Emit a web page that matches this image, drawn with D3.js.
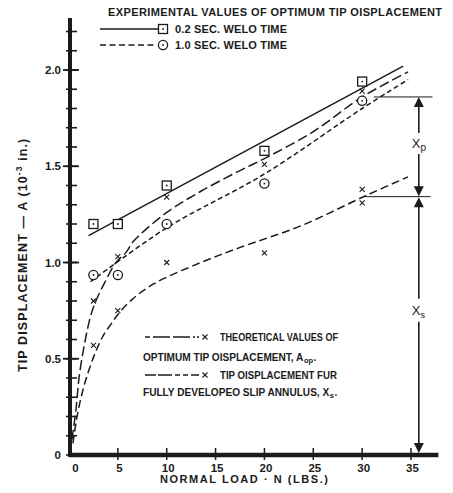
<!DOCTYPE html>
<html><head><meta charset="utf-8">
<script src="https://cdn.jsdelivr.net/npm/d3@7/dist/d3.min.js"></script>
<style>
html,body{margin:0;padding:0;background:#fff;}
svg{display:block;}
text{font-family:"Liberation Sans",Arial,sans-serif;font-weight:bold;fill:#1b1b1b;}
</style></head><body>
<svg id="c" width="453" height="493"></svg>
<script>
// ---- data ----
const expLoad = [2.5, 5, 10, 20, 30];
const weld02 = [1.20, 1.20, 1.40, 1.58, 1.94];
const weld10 = [0.935, 0.935, 1.20, 1.41, 1.84];
const aopMarkN = [2.5, 5, 10, 20, 30];
const aopMarkA = [0.80, 1.03, 1.34, 1.51, 1.89];
const xsMarkN = [2.5, 5, 10, 20, 30, 30];
const xsMarkA = [0.57, 0.75, 1.00, 1.05, 1.38, 1.31];
const fit02N = [2.0, 34.2];
const fit02A = [1.14, 2.02];
const fit10N = [2.2, 10, 20, 30, 34.7];
const fit10A = [0.90, 1.18, 1.46, 1.80, 1.95];
const aopN = [0.3, 0.7, 1.05, 1.6, 2.2, 2.75, 3.6, 4.8, 5.8, 6.6, 10, 13.5, 17.6, 20, 25, 30, 34.7];
const aopA = [0.08, 0.23, 0.41, 0.58, 0.72, 0.80, 0.89, 1.00, 1.05, 1.11, 1.26, 1.37, 1.48, 1.54, 1.68, 1.86, 1.99];
const xsN = [0.4, 0.9, 1.6, 2.6, 3.5, 4.3, 5, 6.5, 8.7, 13.5, 17.6, 23.7, 30.5, 34.7];
const xsA = [0.06, 0.22, 0.37, 0.52, 0.62, 0.68, 0.73, 0.81, 0.89, 1.00, 1.08, 1.19, 1.35, 1.445];
const xTickVals = [0, 5, 10, 15, 20, 25, 30, 35];
const yTickVals = [0, 0.5, 1.0, 1.5, 2.0];
const yTickLabels = ["0", "0.5", "1.0", "1.5", "2.0"];
const yMinorVals = d3.range(0, 2.25, 0.1);
const xpTopA = 1.86, xsTopA = 1.342, annotN = 35.8;

// ---- scales ----
const x = d3.scaleLinear().domain([0, 35]).range([69, 411]);
const y = d3.scaleLinear().domain([0, 2]).range([455, 70]);
const svg = d3.select("#c");
const ink = "#1b1b1b";

// ---- axes ----
svg.append("line").attr("x1", 70).attr("x2", 70).attr("y1", y(2.27)).attr("y2", y(0) + 2)
  .attr("stroke", ink).attr("stroke-width", 4);
svg.append("line").attr("x1", 70).attr("x2", x(37.8)).attr("y1", y(0)).attr("y2", y(0))
  .attr("stroke", ink).attr("stroke-width", 4.5);

svg.append("g").selectAll("line").data(yMinorVals).join("line")
  .attr("x1", 66).attr("x2", 77).attr("y1", d => y(d)).attr("y2", d => y(d))
  .attr("stroke", ink).attr("stroke-width", 1.6);

const yAxis = d3.axisLeft(y).tickValues(yTickVals).tickFormat((d, i) => yTickLabels[i])
  .tickSize(0).tickPadding(0);
const gy = svg.append("g").attr("transform", "translate(61,0)").call(yAxis);
gy.select(".domain").remove();
gy.selectAll("text").attr("font-size", 11.5).attr("fill", ink).style("font-family", "Liberation Sans, Arial, sans-serif").style("font-weight", "bold");
svg.append("g").selectAll("line").data(yTickVals.filter(d => d > 0)).join("line")
  .attr("x1", 63).attr("x2", 79).attr("y1", d => y(d)).attr("y2", d => y(d))
  .attr("stroke", ink).attr("stroke-width", 1.8);

const xAxis = d3.axisBottom(x).tickValues(xTickVals).tickSize(0).tickPadding(0).tickFormat(d3.format("d"));
const gx = svg.append("g").attr("transform", `translate(0,${y(0) + 17})`).call(xAxis);
gx.select(".domain").remove();
gx.selectAll("text").attr("font-size", 11.5).attr("fill", ink).attr("dy", 0)
  .attr("dx", d => d === 0 ? 6 : 1)
  .style("font-family", "Liberation Sans, Arial, sans-serif").style("font-weight", "bold");
svg.append("g").selectAll("line").data(xTickVals.filter(d => d > 0)).join("line")
  .attr("x1", d => x(d)).attr("x2", d => x(d)).attr("y1", y(0) - 7).attr("y2", y(0) + 5)
  .attr("stroke", ink).attr("stroke-width", 1.5);

// ---- axis titles ----
svg.append("text").attr("x", 160).attr("y", 483).attr("font-size", 11)
  .attr("textLength", 168).attr("lengthAdjust", "spacing")
  .text("NORMAL  LOAD  ·  N  (LBS.)");
const yt = svg.append("text").attr("transform", "translate(27,372) rotate(-90)")
  .attr("font-size", 12.5).style("letter-spacing", "1.1px");
yt.append("tspan").text("TIP DISPLACEMENT  —  A  (10");
yt.append("tspan").attr("dy", -5).attr("font-size", 8.5).text("-3");
yt.append("tspan").attr("dy", 5).text(" in.)");

// ---- curves ----
const line = d3.line().x(d => x(d[0])).y(d => y(d[1]));
const smooth = d3.line().x(d => x(d[0])).y(d => y(d[1])).curve(d3.curveCatmullRom.alpha(0.5));
const zip = (a, b) => a.map((v, i) => [v, b[i]]);

svg.append("path").attr("d", line(zip(fit02N, fit02A)))
  .attr("fill", "none").attr("stroke", ink).attr("stroke-width", 1.5);
svg.append("path").attr("d", smooth(zip(fit10N, fit10A)))
  .attr("fill", "none").attr("stroke", ink).attr("stroke-width", 1.5).attr("stroke-dasharray", "5,3");
svg.append("path").attr("d", smooth(zip(aopN, aopA)))
  .attr("fill", "none").attr("stroke", ink).attr("stroke-width", 1.5).attr("stroke-dasharray", "10,4");
svg.append("path").attr("d", smooth(zip(xsN, xsA)))
  .attr("fill", "none").attr("stroke", ink).attr("stroke-width", 1.5).attr("stroke-dasharray", "8,4");

// ---- markers ----
function square(g, cx, cy) {
  g.append("rect").attr("x", cx - 4.5).attr("y", cy - 4.5).attr("width", 9).attr("height", 9)
    .attr("fill", "#fff").attr("stroke", ink).attr("stroke-width", 1.3);
  g.append("circle").attr("cx", cx).attr("cy", cy).attr("r", 0.9).attr("fill", ink);
}
function ring(g, cx, cy) {
  g.append("circle").attr("cx", cx).attr("cy", cy).attr("r", 4.6)
    .attr("fill", "#fff").attr("stroke", ink).attr("stroke-width", 1.3);
  g.append("circle").attr("cx", cx).attr("cy", cy).attr("r", 0.9).attr("fill", ink);
}
function cross(g, cx, cy) {
  g.append("path").attr("d", `M${cx - 2.5},${cy - 2.5}L${cx + 2.5},${cy + 2.5}M${cx - 2.5},${cy + 2.5}L${cx + 2.5},${cy - 2.5}`)
    .attr("stroke", ink).attr("stroke-width", 1.1);
}
const gm = svg.append("g");
expLoad.forEach((n, i) => square(gm, x(n), y(weld02[i])));
expLoad.forEach((n, i) => ring(gm, x(n), y(weld10[i])));
aopMarkN.forEach((n, i) => cross(gm, x(n), y(aopMarkA[i])));
xsMarkN.forEach((n, i) => cross(gm, x(n), y(xsMarkA[i])));

// ---- Xp / Xs annotation ----
const ax = x(annotN);
svg.append("line").attr("x1", x(31.2)).attr("x2", x(37.2)).attr("y1", y(xpTopA)).attr("y2", y(xpTopA))
  .attr("stroke", ink).attr("stroke-width", 1);
svg.append("line").attr("x1", x(30.3)).attr("x2", x(37.0)).attr("y1", y(xsTopA)).attr("y2", y(xsTopA))
  .attr("stroke", ink).attr("stroke-width", 1);
function arrow(tipY, dir) {
  svg.append("path").attr("d", `M${ax},${tipY}L${ax - 5},${tipY - dir * 10}L${ax + 5},${tipY - dir * 10}Z`).attr("fill", ink);
}
const yXpT = y(xpTopA), yXsT = y(xsTopA), yB = y(0);
svg.append("line").attr("x1", ax).attr("x2", ax).attr("y1", yXpT + 8).attr("y2", yXpT + 36).attr("stroke", ink).attr("stroke-width", 1.6);
svg.append("line").attr("x1", ax).attr("x2", ax).attr("y1", yXpT + 57).attr("y2", yXsT - 8).attr("stroke", ink).attr("stroke-width", 1.6);
svg.append("line").attr("x1", ax).attr("x2", ax).attr("y1", yXsT + 8).attr("y2", yXsT + 102).attr("stroke", ink).attr("stroke-width", 1.6);
svg.append("line").attr("x1", ax).attr("x2", ax).attr("y1", yXsT + 125).attr("y2", yB - 8).attr("stroke", ink).attr("stroke-width", 1.6);
arrow(yXpT, -1); arrow(yXsT - 0.5, 1); arrow(yXsT + 0.5, -1); arrow(yB - 2, 1);
const lp = svg.append("text").attr("x", ax - 7).attr("y", yXpT + 51).attr("font-size", 13).style("font-weight", "normal");
lp.append("tspan").text("X"); lp.append("tspan").attr("dy", 3).attr("font-size", 10).text("p");
const ls = svg.append("text").attr("x", ax - 7).attr("y", yXsT + 118).attr("font-size", 13).style("font-weight", "normal");
ls.append("tspan").text("X"); ls.append("tspan").attr("dy", 3).attr("font-size", 9).text("s");

// ---- top legend ----
svg.append("text").attr("x", 108).attr("y", 16).attr("font-size", 11)
  .attr("textLength", 334).attr("lengthAdjust", "spacing")
  .text("EXPERIMENTAL VALUES OF OPTIMUM TIP OISPLACEMENT");
svg.append("line").attr("x1", 100).attr("x2", 158).attr("y1", 29).attr("y2", 29).attr("stroke", ink).attr("stroke-width", 1.5);
square(svg, 163, 29);
svg.append("text").attr("x", 175).attr("y", 33).attr("font-size", 11)
  .attr("textLength", 112).attr("lengthAdjust", "spacing").text("0.2 SEC. WELO TIME");
svg.append("line").attr("x1", 100).attr("x2", 157).attr("y1", 45).attr("y2", 45).attr("stroke", ink).attr("stroke-width", 1.5).attr("stroke-dasharray", "6,3.5");
ring(svg, 163, 45);
svg.append("text").attr("x", 175).attr("y", 49).attr("font-size", 11)
  .attr("textLength", 112).attr("lengthAdjust", "spacing").text("1.0 SEC. WELO TIME");

// ---- bottom legend ----
svg.append("path").attr("d", "M145,337L199,337").attr("stroke", ink).attr("stroke-width", 1.5).attr("stroke-dasharray", "5,3,17,3,17,3,2,2");
cross(svg, 205, 337);
svg.append("text").attr("x", 220).attr("y", 341).attr("font-size", 11)
  .attr("textLength", 118).attr("lengthAdjust", "spacingAndGlyphs").text("THEORETICAL VALUES OF");
function subRow(xp, yp, main, sub, fs) {
  const t = svg.append("text").attr("x", xp).attr("y", yp).attr("font-size", fs).text(main);
  const w = t.node().getComputedTextLength();
  const s = svg.append("text").attr("x", xp + w + 0.5).attr("y", yp + 2).attr("font-size", 7.5).text(sub);
  const w2 = s.node().getComputedTextLength();
  svg.append("text").attr("x", xp + w + w2 + 1).attr("y", yp).attr("font-size", fs).text(".");
}
subRow(143, 361, "OPTIMUM TIP OISPLACEMENT, A", "op", 10.1);
svg.append("path").attr("d", "M145,375L199,375").attr("stroke", ink).attr("stroke-width", 1.5).attr("stroke-dasharray", "11,2,14,3,5,3,5,3");
cross(svg, 205, 375);
svg.append("text").attr("x", 220).attr("y", 379).attr("font-size", 11)
  .attr("textLength", 117).attr("lengthAdjust", "spacingAndGlyphs").text("TIP OISPLACEMENT FUR");
subRow(143, 396, "FULLY DEVELOPEO SLIP ANNULUS, X", "s", 10.1);
</script>
</body></html>
